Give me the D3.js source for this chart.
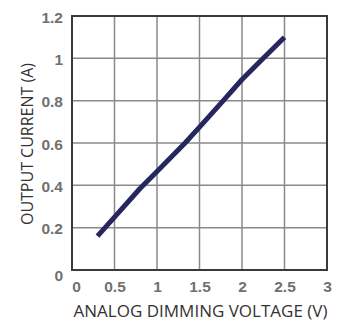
<!DOCTYPE html>
<html>
<head>
<meta charset="utf-8">
<script src="https://cdn.jsdelivr.net/npm/d3@7"></script>
<style>
  body { margin: 0; background: #fff; }
  svg { display: block; }
</style>
</head>
<body>
<svg id="chart" width="356" height="324"></svg>
<script>
// values
const voltage = [0.3, 0.5, 0.8, 1.0, 1.33, 1.5, 1.78, 2.0, 2.25, 2.5];
const current = [0.16, 0.25, 0.385, 0.465, 0.6, 0.675, 0.8, 0.9, 1.0, 1.1];
const xTicks = [0, 0.5, 1, 1.5, 2, 2.5, 3];
const yTicks = [0, 0.2, 0.4, 0.6, 0.8, 1, 1.2];

const margin = { top: 16, right: 29, bottom: 54, left: 72 };
const width = 356 - margin.left - margin.right;
const height = 324 - margin.top - margin.bottom;

const svg = d3.select('#chart');
const g = svg.append('g')
    .attr('transform', `translate(${margin.left}, ${margin.top})`);

const x = d3.scaleLinear().domain([0, 3]).range([0, width]);
const y = d3.scaleLinear().domain([0, 1.2]).range([height, 0]);

// grid
g.append('g')
    .selectAll('line')
    .data(xTicks)
    .enter()
    .append('line')
    .attr('x1', d => x(d)).attr('x2', d => x(d))
    .attr('y1', 0).attr('y2', height)
    .attr('stroke', '#8a8a8a')
    .attr('stroke-width', 1.5);

g.append('g')
    .selectAll('line')
    .data(yTicks)
    .enter()
    .append('line')
    .attr('x1', 0).attr('x2', width)
    .attr('y1', d => y(d)).attr('y2', d => y(d))
    .attr('stroke', '#8a8a8a')
    .attr('stroke-width', 1.5);

// frame
g.append('rect')
    .attr('width', width)
    .attr('height', height)
    .attr('fill', 'none')
    .attr('stroke', '#3a3a3a')
    .attr('stroke-width', 2);

// axes (labels only)
const fmt = d => String(d);
const tickFont = sel => sel
    .style('font-family', 'Liberation Sans, Arial, sans-serif')
    .style('font-size', '15.5px')
    .style('font-weight', 'bold')
    .attr('fill', '#707070');

const xAxis = g.append('g')
    .attr('transform', `translate(0, ${height})`)
    .call(d3.axisBottom(x).tickValues(xTicks).tickFormat(fmt).tickSize(0).tickPadding(11));
xAxis.select('.domain').remove();
xAxis.selectAll('text')
    .call(tickFont)
    .attr('dx', d => d === 0 ? 4 : 0);

const yAxis = g.append('g')
    .call(d3.axisLeft(y).tickValues(yTicks).tickFormat(fmt).tickSize(0).tickPadding(9));
yAxis.select('.domain').remove();
yAxis.selectAll('text')
    .call(tickFont)
    .attr('dy', d => d === 0 ? '0.7em' : '0.4em');

// curve
const line = d3.line()
    .x((d, i) => x(voltage[i]))
    .y(d => y(d));

g.append('path')
    .datum(current)
    .attr('fill', 'none')
    .attr('stroke', '#262660')
    .attr('stroke-width', 5)
    .attr('stroke-linejoin', 'round')
    .attr('d', line);

// axis titles
svg.append('text')
    .attr('x', margin.left + width / 2 + 1)
    .attr('y', 317)
    .attr('text-anchor', 'middle')
    .style('font-family', 'Open Sans, sans-serif')
    .style('font-size', '17px')
    .attr('fill', '#333')
    .text('ANALOG DIMMING VOLTAGE (V)');

svg.append('text')
    .attr('transform', `translate(33, ${margin.top + 128}) rotate(-90)`)
    .attr('text-anchor', 'middle')
    .style('font-family', 'Open Sans, sans-serif')
    .style('font-size', '16px')
    .attr('fill', '#333')
    .text('OUTPUT CURRENT (A)');
</script>
</body>
</html>
